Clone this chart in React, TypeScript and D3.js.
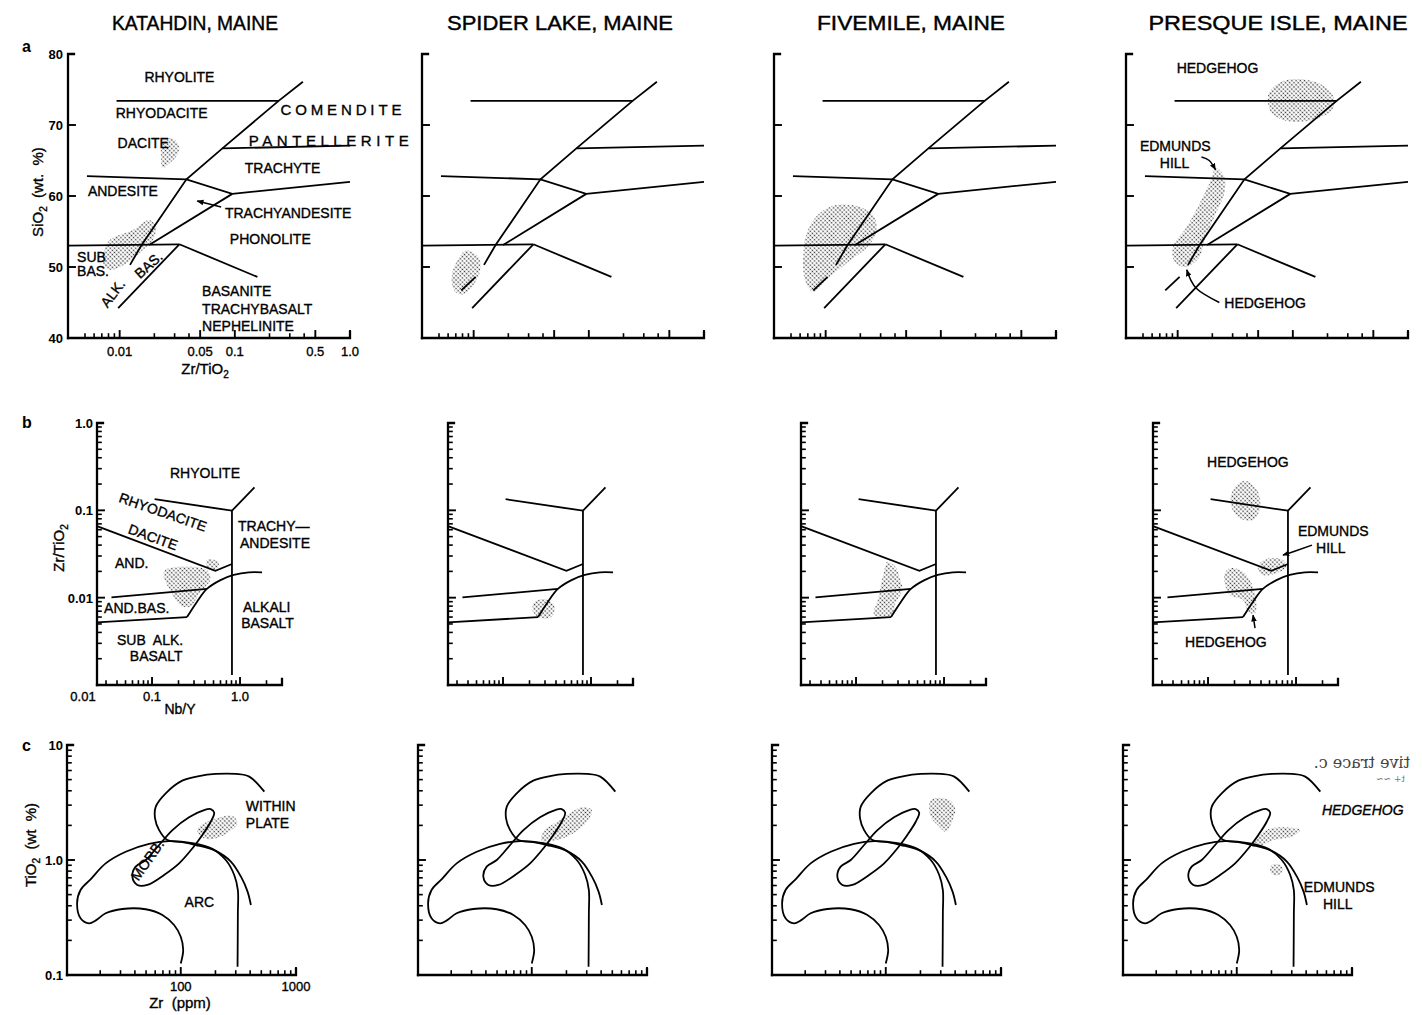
import React from "react";
import * as d3 from "d3";

type Pt = [number, number];
type Lbl = { t: string; x: number; y: number; rot?: number; mid?: boolean; len?: number; fs?: number; it?: boolean };

// ---------------- DATA ----------------
const titles = ["KATAHDIN, MAINE", "SPIDER LAKE, MAINE", "FIVEMILE, MAINE", "PRESQUE ISLE, MAINE"];

// Row a : SiO2 (wt.%) vs Zr/TiO2
const aXDomain: Pt = [0.00356, 1.0];
const aYDomain: Pt = [40, 80];
const aYTicks = [50, 60, 70];
const aYLabels = [40, 50, 60, 70, 80];
const aXMajor = [0.01, 0.05, 0.1, 0.5, 1.0];
const aXMinor = [0.005, 0.006, 0.007, 0.008, 0.009, 0.02, 0.03, 0.04, 0.2, 0.3, 0.4];
const aXLabels = ["0.01", "0.05", "0.1", "0.5", "1.0"];
const aLines: Pt[][] = [
  [[0.0094, 73.4], [0.24, 73.4]],
  [[0.39, 76.1], [0.24, 73.4], [0.078, 66.7], [0.038, 62.35], [0.0155, 53.1], [0.0123, 50.3]],
  [[0.078, 66.7], [1.0, 67.1]],
  [[0.0052, 62.8], [0.038, 62.35], [0.095, 60.3], [1.0, 62.0]],
  [[0.095, 60.3], [0.018, 53.1]],
  [[0.00356, 53.0], [0.033, 53.2]],
  [[0.033, 53.2], [0.157, 48.6]],
  [[0.033, 53.2], [0.0097, 44.2]],
];
const aLowerSegment: Pt[] = [[0.0104, 48.6], [0.0078, 46.7]];
const aBlobs: Pt[][][] = [
  [
    [[0.0236, 67.65], [0.0288, 68.1], [0.0329, 66.9], [0.0308, 65.5], [0.027, 64.6], [0.0236, 63.9], [0.0229, 65.3]],
    [[0.0082, 53.8], [0.013, 55.2], [0.0181, 56.6], [0.0207, 55.7], [0.0194, 53.8], [0.0159, 52.4], [0.0114, 50.5], [0.0082, 49.6], [0.0072, 50.5], [0.0074, 52.4]],
  ],
  [
    [[0.0085, 52.3], [0.011, 51.45], [0.0114, 49.6], [0.01, 47.5], [0.0079, 46.1], [0.0067, 46.8], [0.0065, 49.1], [0.0074, 51.2]],
  ],
  [
    [[0.012, 58.7], [0.0196, 58.5], [0.0264, 57.1], [0.0273, 54.75], [0.0232, 52.9], [0.0151, 50.5], [0.0101, 48.2], [0.0078, 46.5], [0.0066, 48.2], [0.0064, 51.9], [0.007, 55.2], [0.0089, 57.6]],
  ],
  [
    [[0.0865, 76.3], [0.167, 75.9], [0.225, 74.0], [0.218, 72.1], [0.147, 70.7], [0.0865, 70.6], [0.0642, 71.9], [0.062, 74.5]],
    [[0.0216, 63.9], [0.0254, 62.7], [0.0254, 60.4], [0.0208, 57.1], [0.0171, 53.8], [0.0155, 51.45], [0.0119, 50.0], [0.0094, 50.75], [0.0091, 52.9], [0.0115, 55.2], [0.015, 58.5], [0.0189, 61.8]],
  ],
];
const aLabelsP1: Lbl[] = [
  { t: "RHYOLITE", x: 0.0164, y: 76.05 },
  { t: "RHYODACITE", x: 0.00925, y: 71.0 },
  { t: "COMENDITE", x: 0.249, y: 71.4, len: 121, fs: 15 },
  { t: "PANTELLERITE", x: 0.132, y: 67.0, len: 160, fs: 15 },
  { t: "DACITE", x: 0.0096, y: 66.8 },
  { t: "TRACHYTE", x: 0.122, y: 63.2 },
  { t: "ANDESITE", x: 0.0053, y: 60.0 },
  { t: "TRACHYANDESITE", x: 0.082, y: 56.9 },
  { t: "PHONOLITE", x: 0.0905, y: 53.2 },
  { t: "SUB", x: 0.00427, y: 50.7 },
  { t: "BAS.", x: 0.00427, y: 48.7 },
  { t: "ALK.", x: 0.0087, y: 46.3, rot: -53, mid: true },
  { t: "BAS.", x: 0.0178, y: 50.3, rot: -42, mid: true },
  { t: "BASANITE", x: 0.052, y: 45.9 },
  { t: "TRACHYBASALT", x: 0.052, y: 43.4 },
  { t: "NEPHELINITE", x: 0.052, y: 41.0 },
];
const aArrowsP1: Pt[][] = [[[0.076, 58.45], [0.0471, 59.3]]];
const aLabelsP4: Lbl[] = [
  { t: "HEDGEHOG", x: 0.0098, y: 77.3 },
  { t: "EDMUNDS", x: 0.0047, y: 66.3 },
  { t: "HILL", x: 0.007, y: 63.9 },
  { t: "HEDGEHOG", x: 0.0254, y: 44.2 },
];
const aArrowsP4: Pt[][] = [
  [[0.0161, 65.5], [0.0188, 65.0], [0.0213, 63.7]],
  [[0.023, 45.0], [0.0145, 47.0], [0.012, 49.6]],
];

// Row b : Zr/TiO2 vs Nb/Y
const bXDomain: Pt = [0.0237, 3.0];
const bYDomain: Pt = [0.001, 1.0];
const bXMajor = [0.1, 1.0];
const bXMinor = [0.03, 0.04, 0.05, 0.06, 0.07, 0.08, 0.09, 0.2, 0.3, 0.4, 0.5, 0.6, 0.7, 0.8, 0.9, 2, 3];
const bYMajor = [0.01, 0.1];
const bYMinor = [0.002, 0.003, 0.004, 0.005, 0.006, 0.007, 0.008, 0.009, 0.02, 0.03, 0.04, 0.05, 0.06, 0.07, 0.08, 0.09, 0.2, 0.3, 0.4, 0.5, 0.6, 0.7, 0.8, 0.9];
const bYLabels = ["1.0", "0.1", "0.01"];
const bYLabelVals = [1.0, 0.1, 0.01];
const bXLabels = ["0.01", "0.1", "1.0"];
const bLines: Pt[][] = [
  [[0.107, 0.134], [0.81, 0.099]],
  [[0.81, 0.099], [0.81, 0.0013]],
  [[0.81, 0.099], [1.46, 0.183]],
  [[0.0237, 0.066], [0.525, 0.0203], [0.81, 0.0243]],
  [[0.0237, 0.0052], [0.25, 0.006]],
  [[0.0346, 0.0101], [0.42, 0.0126]],
];
const bCurve: Pt[] = [[0.25, 0.006], [0.325, 0.009], [0.42, 0.0126], [0.6, 0.0159], [0.85, 0.0182], [1.26, 0.0195], [1.78, 0.0195]];
const bBlobs: Pt[][][] = [
  [
    [[0.1415, 0.0207], [0.25, 0.0226], [0.42, 0.0207], [0.46, 0.0159], [0.354, 0.0117], [0.272, 0.00787], [0.21, 0.0082], [0.161, 0.0122], [0.136, 0.0173]],
    [[0.42, 0.027], [0.573, 0.0258], [0.548, 0.0217], [0.44, 0.0207]],
  ],
  [
    [[0.229, 0.00897], [0.311, 0.00955], [0.386, 0.00787], [0.355, 0.006], [0.273, 0.0058], [0.219, 0.0069]],
  ],
  [
    [[0.225, 0.0258], [0.28, 0.0226], [0.319, 0.0159], [0.336, 0.0122], [0.28, 0.0086], [0.257, 0.0063], [0.173, 0.006], [0.159, 0.0066], [0.181, 0.0102], [0.197, 0.0159], [0.215, 0.0226]],
  ],
  [
    [[0.261, 0.218], [0.37, 0.163], [0.386, 0.1007], [0.324, 0.0774], [0.229, 0.081], [0.184, 0.11], [0.192, 0.171]],
    [[0.386, 0.0247], [0.502, 0.0282], [0.711, 0.027], [0.776, 0.0226], [0.597, 0.019], [0.422, 0.0181], [0.37, 0.0207]],
    [[0.177, 0.0217], [0.25, 0.0198], [0.311, 0.0146], [0.355, 0.0086], [0.34, 0.0066], [0.285, 0.0069], [0.25, 0.0094], [0.177, 0.0107], [0.155, 0.0146], [0.155, 0.019]],
  ],
];
const bLabelsP1: Lbl[] = [
  { t: "RHYOLITE", x: 0.16, y: 0.234 },
  { t: "RHYODACITE", x: 0.133, y: 0.0955, rot: 19, mid: true },
  { t: "DACITE", x: 0.1026, y: 0.0494, rot: 20, mid: true },
  { t: "TRACHY\u2014", x: 0.948, y: 0.058 },
  { t: "ANDESITE", x: 1.0, y: 0.037 },
  { t: "AND.", x: 0.038, y: 0.0218 },
  { t: "AND.BAS.", x: 0.0285, y: 0.00667 },
  { t: "ALKALI", x: 1.08, y: 0.00684 },
  { t: "BASALT", x: 1.03, y: 0.00449 },
  { t: "SUB  ALK.", x: 0.04, y: 0.00286 },
  { t: "BASALT", x: 0.056, y: 0.00188 },
];
const bLabelsP4: Lbl[] = [
  { t: "HEDGEHOG", x: 0.0975, y: 0.313 },
  { t: "EDMUNDS", x: 1.05, y: 0.0508 },
  { t: "HILL", x: 1.69, y: 0.0324 },
  { t: "HEDGEHOG", x: 0.0548, y: 0.00272 },
];
const bArrowsP4: Pt[][] = [
  [[1.52, 0.04], [1.0, 0.0345], [0.711, 0.0308]],
  [[0.342, 0.00449], [0.325, 0.0063]],
];

// Row c : TiO2 (wt%) vs Zr (ppm)
const cXDomain: Pt = [10.3, 1000];
const cYDomain: Pt = [0.1, 10];
const cXMajor = [100, 1000];
const cXMinor = [20, 30, 40, 50, 60, 70, 80, 90, 200, 300, 400, 500, 600, 700, 800, 900];
const cYMajor = [1];
const cYMinor = [0.2, 0.3, 0.4, 0.5, 0.6, 0.7, 0.8, 0.9, 2, 3, 4, 5, 6, 7, 8, 9];
const cYLabels = ["10", "1.0", "0.1"];
const cYLabelVals = [10, 1, 0.1];
const cXLabels = ["100", "1000"];
const cWithinPlate: Pt[] = [[531, 3.93], [393, 5.31], [301, 5.6], [201, 5.6], [144, 5.37], [103, 4.9], [74, 3.8], [60.7, 2.91], [59.8, 2.3], [64.9, 1.82], [76.6, 1.49], [103, 1.43], [135, 1.35], [201, 1.2], [272, 0.97], [333, 0.716], [380, 0.531], [406, 0.406]];
const cArc: Pt[] = [[100, 0.126], [105, 0.165], [100, 0.215], [87.5, 0.272], [69.3, 0.333], [49.7, 0.373], [31.1, 0.375], [22.3, 0.344], [18.2, 0.297], [16.0, 0.281], [13.5, 0.311], [12.6, 0.42], [13.5, 0.548], [16.5, 0.679], [22.3, 0.935], [33.3, 1.18], [53.1, 1.38], [79.2, 1.46], [126, 1.4], [188, 1.25], [246, 1.0], [291, 0.741], [313, 0.548], [313, 0.344], [311, 0.118]];
const cMorb: Pt[] = [[182, 2.77], [195, 2.58], [182, 2.15], [154, 1.65], [126, 1.26], [96.8, 0.935], [71.6, 0.741], [51.3, 0.607], [42, 0.607], [38, 0.716], [40.6, 0.875], [49.7, 1.0], [64.9, 1.35], [84.7, 1.82], [118, 2.35], [160, 2.72]];
const cBlobs: Pt[][][] = [
  [[[144, 1.95], [201, 2.3], [281, 2.41], [311, 2.09], [263, 1.76], [201, 1.54], [160, 1.54], [140, 1.76]]],
  [[[272, 2.87], [333, 2.72], [301, 2.15], [230, 1.71], [165, 1.49], [122, 1.47], [126, 1.76], [176, 2.23]]],
  [[[246, 3.33], [355, 3.33], [401, 2.81], [380, 2.23], [333, 1.76], [291, 1.95], [246, 2.38]]],
  [
    [[182, 1.82], [272, 1.92], [356, 1.82], [311, 1.62], [209, 1.49], [160, 1.35], [144, 1.44]],
    [[201, 0.906], [238, 0.906], [251, 0.818], [230, 0.741], [201, 0.756], [195, 0.83]],
  ],
];
const cLabelsP1: Lbl[] = [
  { t: "WITHIN", x: 367, y: 2.67 },
  { t: "PLATE", x: 367, y: 1.9 },
  { t: "MORB.", x: 51.3, y: 1.0, rot: -55, mid: true },
  { t: "ARC", x: 108, y: 0.39 },
];
const cLabelsP4: Lbl[] = [
  { t: "HEDGEHOG", x: 548, y: 2.46, it: true },
  { t: "EDMUNDS", x: 382, y: 0.527 },
  { t: "HILL", x: 560, y: 0.375 },
];

// ---------------- LAYOUT ----------------
const FONT = "'Liberation Sans', Arial, Helvetica, sans-serif";
const TITLE_X = [195, 560, 911, 1278];
const TITLE_W = [166, 226, 188, 259];
const LAY = {
  a: { x0: [68, 422, 774, 1126], w: 282, top: 54, bottom: 338 },
  b: { x0: [97, 448, 801, 1153], w: 185, top: 423, bottom: 685 },
  c: { x0: [67, 418, 772, 1123], w: 229, top: 745, bottom: 975 },
};
const TXT = { stroke: "#000", strokeWidth: 0.35 } as const;

type Sc = (v: number) => number;

function path(xs: Sc, ys: Sc, pts: Pt[], curve: any = d3.curveLinear) {
  return (
    d3
      .line<Pt>()
      .x((d) => xs(d[0]))
      .y((d) => ys(d[1]))
      .curve(curve)(pts) ?? ""
  );
}

function Axes(props: {
  xs: any; ys: any; xMajor: number[]; xMinor: number[]; yMajor: number[]; yMinor: number[];
}) {
  const { xs, ys, xMajor, xMinor, yMajor, yMinor } = props;
  const [x0, x1] = xs.range();
  const [yb, yt] = ys.range();
  return (
    <g stroke="#000" fill="none" strokeLinecap="square">
      <path d={`M${x0},${yb}V${yt}h6`} strokeWidth={2.3} />
      <path d={`M${x0},${yb}H${x1}v-6`} strokeWidth={2.3} />
      {xMajor.map((v, i) => (
        <line key={"xM" + i} x1={xs(v)} x2={xs(v)} y1={yb} y2={yb - 7} strokeWidth={1.9} />
      ))}
      {xMinor.map((v, i) => (
        <line key={"xm" + i} x1={xs(v)} x2={xs(v)} y1={yb} y2={yb - 4} strokeWidth={1.6} />
      ))}
      {yMajor.map((v, i) => (
        <line key={"yM" + i} x1={x0} x2={x0 + 7} y1={ys(v)} y2={ys(v)} strokeWidth={1.9} />
      ))}
      {yMinor.map((v, i) => (
        <line key={"ym" + i} x1={x0} x2={x0 + 4} y1={ys(v)} y2={ys(v)} strokeWidth={1.6} />
      ))}
    </g>
  );
}

function Labels({ xs, ys, items }: { xs: Sc; ys: Sc; items: Lbl[] }) {
  return (
    <g fill="#000" {...TXT}>
      {items.map((l, i) => {
        const x = xs(l.x);
        const y = ys(l.y);
        return (
          <text
            key={i}
            x={x}
            y={y}
            fontSize={l.fs ?? 14}
            fontStyle={l.it ? "italic" : undefined}
            textAnchor={l.mid ? "middle" : "start"}
            dominantBaseline={l.mid ? "central" : undefined}
            transform={l.rot ? `rotate(${l.rot},${x},${y})` : undefined}
            textLength={l.len}
            lengthAdjust={l.len ? "spacing" : undefined}
            style={{ whiteSpace: "pre" }}
          >
            {l.t}
          </text>
        );
      })}
    </g>
  );
}

function Arrows({ xs, ys, items }: { xs: Sc; ys: Sc; items: Pt[][] }) {
  return (
    <g>
      {items.map((a, i) => (
        <path key={i} d={path(xs, ys, a, d3.curveNatural)} fill="none" stroke="#000" strokeWidth={1.5} markerEnd="url(#arr)" />
      ))}
    </g>
  );
}

const LINE = { stroke: "#000", strokeWidth: 1.8, fill: "none" } as const;

function RowA() {
  const L = LAY.a;
  return (
    <g>
      {L.x0.map((x0, i) => {
        const xs = d3.scaleLog().domain(aXDomain).range([x0, x0 + L.w]);
        const ys = d3.scaleLinear().domain(aYDomain).range([L.bottom, L.top]);
        return (
          <g key={i}>
            {aBlobs[i].map((b, j) => (
              <path key={j} d={path(xs, ys, b, d3.curveCatmullRomClosed)} fill="url(#dots)" />
            ))}
            {aLines.map((l, j) => (
              <path key={j} d={path(xs, ys, l)} {...LINE} />
            ))}
            {i > 0 && <path d={path(xs, ys, aLowerSegment)} {...LINE} />}
            <Axes xs={xs} ys={ys} xMajor={aXMajor} xMinor={aXMinor} yMajor={aYTicks} yMinor={[]} />
            {i === 0 && (
              <g>
                <Labels xs={xs} ys={ys} items={aLabelsP1} />
                <Arrows xs={xs} ys={ys} items={aArrowsP1} />
                {aYLabels.map((v, j) => (
                  <text key={j} x={x0 - 5} y={ys(v) + 5} textAnchor="end" fontSize={13} fontWeight="bold">{v}</text>
                ))}
                {aXMajor.map((v, j) => (
                  <text key={j} x={xs(v)} y={L.bottom + 18} textAnchor="middle" fontSize={13} {...TXT}>{aXLabels[j]}</text>
                ))}
                <text x={205} y={L.bottom + 36} textAnchor="middle" fontSize={15} {...TXT}>
                  Zr/TiO<tspan dy={4} fontSize={10}>2</tspan>
                </text>
                <text transform={`translate(43,192) rotate(-90)`} textAnchor="middle" fontSize={15} {...TXT} style={{ whiteSpace: "pre" }}>
                  SiO<tspan dy={4} fontSize={10}>2</tspan><tspan dy={-4}>{"  (wt.  %)"}</tspan>
                </text>
              </g>
            )}
            {i === 3 && (
              <g>
                <Labels xs={xs} ys={ys} items={aLabelsP4} />
                <Arrows xs={xs} ys={ys} items={aArrowsP4} />
              </g>
            )}
          </g>
        );
      })}
    </g>
  );
}

function RowB() {
  const L = LAY.b;
  return (
    <g>
      {L.x0.map((x0, i) => {
        const xs = d3.scaleLog().domain(bXDomain).range([x0, x0 + L.w]);
        const ys = d3.scaleLog().domain(bYDomain).range([L.bottom, L.top]);
        return (
          <g key={i}>
            {bBlobs[i].map((b, j) => (
              <path key={j} d={path(xs, ys, b, d3.curveCatmullRomClosed)} fill="url(#dots)" />
            ))}
            {bLines.map((l, j) => (
              <path key={j} d={path(xs, ys, l)} {...LINE} />
            ))}
            <path d={path(xs, ys, bCurve, d3.curveCatmullRom)} {...LINE} />
            <Axes xs={xs} ys={ys} xMajor={bXMajor} xMinor={bXMinor} yMajor={bYMajor} yMinor={bYMinor} />
            {i === 0 && (
              <g>
                <Labels xs={xs} ys={ys} items={bLabelsP1} />
                {bYLabelVals.map((v, j) => (
                  <text key={j} x={x0 - 4} y={ys(v) + 5} textAnchor="end" fontSize={13} fontWeight="bold">{bYLabels[j]}</text>
                ))}
                {[bXDomain[0], 0.1, 1.0].map((v, j) => (
                  <text key={j} x={xs(v) - (j === 0 ? 14 : 0)} y={L.bottom + 16} textAnchor="middle" fontSize={13} {...TXT}>{bXLabels[j]}</text>
                ))}
                <text x={180} y={L.bottom + 29} textAnchor="middle" fontSize={14} {...TXT}>Nb/Y</text>
                <text transform={`translate(64,548) rotate(-90)`} textAnchor="middle" fontSize={15} {...TXT}>
                  Zr/TiO<tspan dy={4} fontSize={10}>2</tspan>
                </text>
              </g>
            )}
            {i === 3 && (
              <g>
                <Labels xs={xs} ys={ys} items={bLabelsP4} />
                <Arrows xs={xs} ys={ys} items={bArrowsP4} />
              </g>
            )}
          </g>
        );
      })}
    </g>
  );
}

function RowC() {
  const L = LAY.c;
  return (
    <g>
      {L.x0.map((x0, i) => {
        const xs = d3.scaleLog().domain(cXDomain).range([x0, x0 + L.w]);
        const ys = d3.scaleLog().domain(cYDomain).range([L.bottom, L.top]);
        return (
          <g key={i}>
            {cBlobs[i].map((b, j) => (
              <path key={j} d={path(xs, ys, b, d3.curveCatmullRomClosed)} fill="url(#dots)" />
            ))}
            <path d={path(xs, ys, cWithinPlate, d3.curveCatmullRom)} {...LINE} />
            <path d={path(xs, ys, cArc, d3.curveCatmullRom)} {...LINE} />
            <path d={path(xs, ys, cMorb, d3.curveCatmullRomClosed)} {...LINE} />
            <Axes xs={xs} ys={ys} xMajor={cXMajor} xMinor={cXMinor} yMajor={cYMajor} yMinor={cYMinor} />
            {i === 0 && (
              <g>
                <Labels xs={xs} ys={ys} items={cLabelsP1} />
                {cYLabelVals.map((v, j) => (
                  <text key={j} x={x0 - 4} y={ys(v) + 5} textAnchor="end" fontSize={13} fontWeight="bold">{cYLabels[j]}</text>
                ))}
                {cXMajor.map((v, j) => (
                  <text key={j} x={xs(v)} y={L.bottom + 16} textAnchor="middle" fontSize={13} {...TXT}>{cXLabels[j]}</text>
                ))}
                <text x={180} y={L.bottom + 33} textAnchor="middle" fontSize={15} style={{ whiteSpace: "pre" }} {...TXT}>{"Zr  (ppm)"}</text>
                <text transform={`translate(36,845) rotate(-90)`} textAnchor="middle" fontSize={15} style={{ whiteSpace: "pre" }} {...TXT}>
                  TiO<tspan dy={4} fontSize={10}>2</tspan><tspan dy={-4}>{"  (wt  %)"}</tspan>
                </text>
              </g>
            )}
            {i === 3 && <Labels xs={xs} ys={ys} items={cLabelsP4} />}
          </g>
        );
      })}
    </g>
  );
}

export default function App() {
  const W = 1422;
  const H = 1015;
  return (
    <svg width={W} height={H} style={{ position: "absolute", left: 0, top: 0 }} fontFamily={FONT}>
      <defs>
        <pattern id="dots" width={3} height={3} patternUnits="userSpaceOnUse" patternTransform="rotate(45)">
          <circle cx={1.5} cy={1.5} r={0.85} fill="#333" />
        </pattern>
        <marker id="arr" viewBox="0 0 10 10" refX={9} refY={5} markerWidth={7} markerHeight={7} orient="auto" markerUnits="userSpaceOnUse">
          <path d="M0,1 L10,5 L0,9 z" fill="#000" />
        </marker>
      </defs>
      <rect width={W} height={H} fill="#fff" />
      {titles.map((t, i) => (
        <text key={i} x={TITLE_X[i]} y={30} textAnchor="middle" fontSize={20} textLength={TITLE_W[i]} lengthAdjust="spacingAndGlyphs" stroke="#000" strokeWidth={0.4}>
          {t}
        </text>
      ))}
      <text x={22} y={52} fontSize={16} fontWeight="bold">a</text>
      <text x={22} y={428} fontSize={16} fontWeight="bold">b</text>
      <text x={22} y={751} fontSize={16} fontWeight="bold">c</text>
      <RowA />
      <RowB />
      <RowC />
      <text transform="translate(1410,768) scale(-1,1)" fontSize={16} fill="#444" fontFamily="'DejaVu Serif', serif">tive trace c.</text>
      <text transform="translate(1405,782) scale(-1,1)" fontSize={9} fill="#777" fontFamily="'DejaVu Serif', serif">t+ ~~</text>
    </svg>
  );
}
